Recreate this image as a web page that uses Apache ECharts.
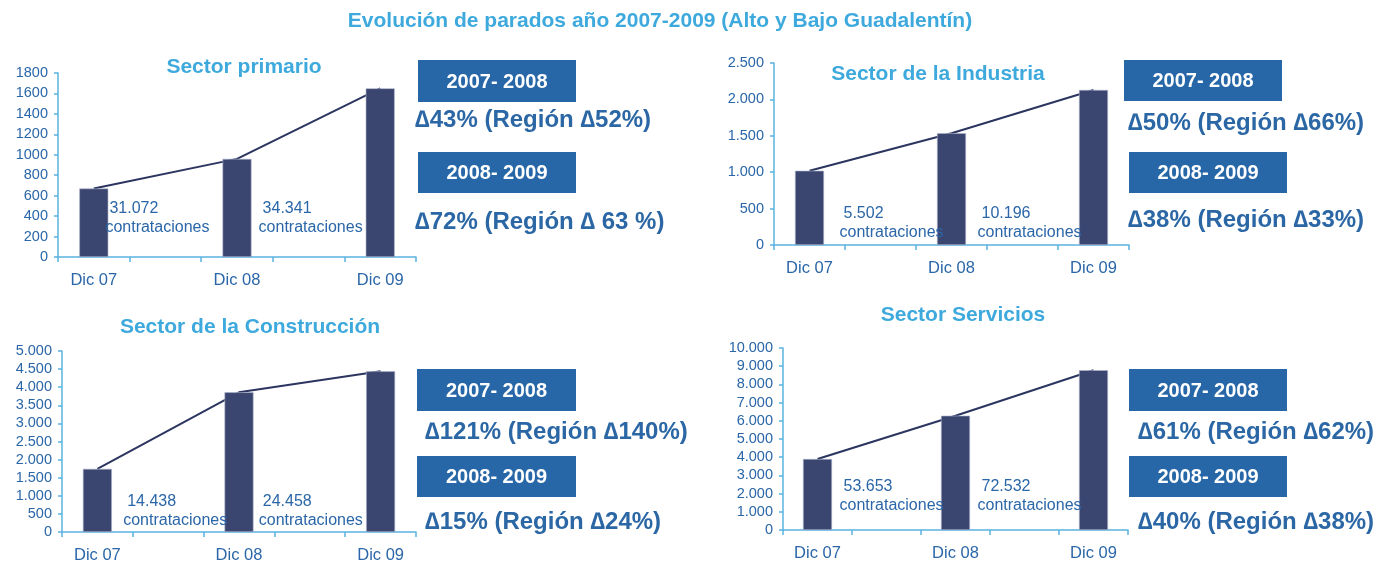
<!DOCTYPE html>
<html>
<head>
<meta charset="utf-8">
<script src="https://cdn.jsdelivr.net/npm/echarts@6/dist/echarts.min.js"></script>
<style>
  html, body { margin: 0; padding: 0; background: #fff; }
  #chart { width: 1375px; height: 564px; }
</style>
</head>
<body>
<div id="chart"></div>
<script>
// categorias (los huecos separan las barras)
const categories = ['Dic 07', '', 'Dic 08', '', 'Dic 09'];

// parados por sector (Dic 07, Dic 08, Dic 09)
const primario = [670, 960, 1650];
const industria = [1020, 1535, 2130];
const construccion = [1745, 3860, 4440];
const servicios = [3900, 6280, 8780];

// contrataciones entre periodos
const contrPrimario = ['31.072', '34.341'];
const contrIndustria = ['5.502', '10.196'];
const contrConstruccion = ['14.438', '24.458'];
const contrServicios = ['53.653', '72.532'];

// variaciones
const periodos = ['2007- 2008', '2008- 2009'];
const deltaPrimario = ['∆43% (Región ∆52%)', '∆72% (Región ∆ 63 %)'];
const deltaIndustria = ['∆50% (Región ∆66%)', '∆38% (Región ∆33%)'];
const deltaConstruccion = ['∆121% (Región ∆140%)', '∆15% (Región ∆24%)'];
const deltaServicios = ['∆61% (Región ∆62%)', '∆40% (Región ∆38%)'];

const yMax = [1800, 2500, 5000, 10000];
const yStep = [200, 500, 500, 1000];

const titulo = 'Evolución de parados año 2007-2009 (Alto y Bajo Guadalentín)';
const sectores = ['Sector primario', 'Sector de la Industria', 'Sector de la Construcción', 'Sector Servicios'];

const charts = [
    { values: primario, contr: contrPrimario, delta: deltaPrimario, sep: '',
      grid: { left: 58, top: 73, width: 358, height: 184 }, title: [244, 67],
      annoDx: [-60, -50], annoDy: -20, boxes: [[418, 60, 158, 42], [418, 152, 158, 41]], deltaPos: [[415, 120], [415, 222]] },
    { values: industria, contr: contrIndustria, delta: deltaIndustria, sep: '.',
      grid: { left: 774, top: 63, width: 355, height: 182 }, title: [938, 74],
      annoDx: [-41, -45], annoDy: -3, boxes: [[1124, 60, 158, 41], [1129, 152, 158, 41]], deltaPos: [[1128, 123], [1128, 220]] },
    { values: construccion, contr: contrConstruccion, delta: deltaConstruccion, sep: '.',
      grid: { left: 62, top: 351, width: 354, height: 182 }, title: [250, 327],
      annoDx: [-45, -51], annoDy: -2, boxes: [[417, 369, 159, 42], [417, 456, 159, 41]], deltaPos: [[425, 432], [425, 522]] },
    { values: servicios, contr: contrServicios, delta: deltaServicios, sep: '.',
      grid: { left: 783, top: 348, width: 345, height: 182 }, title: [963, 315],
      annoDx: [-47, -47], annoDy: -15, boxes: [[1129, 369, 158, 42], [1129, 456, 158, 41]], deltaPos: [[1138, 432], [1138, 522]] }
];

const FONT = 'Liberation Sans, Arial, sans-serif';
const axisBlue = '#5ab3e1';
const labelBlue = '#2a66a8';
const titleBlue = '#3da9dc';
const barColor = '#3b4670';
const boxColor = '#2767a7';

function spread(v) {
    // coloca cada valor en su categoria, dejando huecos
    return [v[0], '-', v[1], '-', v[2]];
}

function fmt(sep) {
    return function (val) {
        return String(val).replace(/\B(?=(\d{3})+(?!\d))/g, sep);
    };
}

const grids = [], xAxes = [], yAxes = [], series = [], graphics = [];

graphics.push({
    type: 'text', x: 660, y: 21,
    style: { text: titulo, fill: titleBlue, font: 'bold 21px ' + FONT, textAlign: 'center', textVerticalAlign: 'middle' }
});

charts.forEach(function (c, i) {
    grids.push(c.grid);
    xAxes.push({
        type: 'category', gridIndex: i, data: categories,
        axisLine: { lineStyle: { color: axisBlue, width: 1.5 } },
        axisTick: { show: true, length: 5, lineStyle: { color: axisBlue, width: 1.5 } },
        axisLabel: { interval: 0, color: labelBlue, fontSize: 16.5, fontFamily: FONT, margin: 15 }
    });
    yAxes.push({
        type: 'value', gridIndex: i, min: 0, max: yMax[i], interval: yStep[i],
        axisLine: { show: true, lineStyle: { color: axisBlue, width: 1.5 } },
        axisTick: { show: true, length: 4, lineStyle: { color: axisBlue, width: 1.5 } },
        splitLine: { show: false },
        axisLabel: { color: labelBlue, fontSize: 14.5, fontFamily: FONT, margin: 10, formatter: fmt(c.sep) }
    });
    series.push({
        type: 'line', xAxisIndex: i, yAxisIndex: i, data: spread(c.values),
        connectNulls: true, symbol: 'none', z: 1,
        lineStyle: { color: '#2b3560', width: 2 }
    });
    series.push({
        type: 'bar', xAxisIndex: i, yAxisIndex: i, data: spread(c.values),
        barWidth: 29, z: 3,
        itemStyle: { color: barColor, borderColor: '#aeb5cc', borderWidth: 0.6 }
    });
    series.push({
        type: 'scatter', xAxisIndex: i, yAxisIndex: i, symbolSize: 0, z: 5, silent: true,
        itemStyle: { color: labelBlue, opacity: 1 },
        data: [
            { value: [1, 0], name: c.contr[0], dx: c.annoDx[0] },
            { value: [3, 0], name: c.contr[1], dx: c.annoDx[1] }
        ].map(function (d) {
            return {
                value: d.value, name: d.name,
                label: { position: [d.dx, c.annoDy] }
            };
        }),
        label: {
            show: true, align: 'left', verticalAlign: 'bottom', color: labelBlue, opacity: 1,
            formatter: function (p) { return '{n|' + p.name + '}\n{c|contrataciones}'; },
            rich: {
                n: { fontSize: 16, fontFamily: FONT, color: labelBlue, lineHeight: 19, padding: [0, 0, 0, 4] },
                c: { fontSize: 16, fontFamily: FONT, color: labelBlue, lineHeight: 19 }
            }
        }
    });

    graphics.push({
        type: 'text', x: c.title[0], y: c.title[1],
        style: { text: sectores[i], fill: titleBlue, font: 'bold 21px ' + FONT, textAlign: 'center', textVerticalAlign: 'middle' }
    });
    c.boxes.forEach(function (b, k) {
        graphics.push({
            type: 'rect', shape: { x: b[0], y: b[1], width: b[2], height: b[3] },
            style: { fill: boxColor }
        });
        graphics.push({
            type: 'text', x: b[0] + b[2] / 2, y: b[1] + b[3] / 2 + 1,
            style: { text: periodos[k], fill: '#ffffff', font: 'bold 20px ' + FONT, textAlign: 'center', textVerticalAlign: 'middle' }
        });
        graphics.push({
            type: 'text', x: c.deltaPos[k][0], y: c.deltaPos[k][1],
            style: { text: c.delta[k], fill: '#2c67a5', font: 'bold 24px ' + FONT, textAlign: 'left', textVerticalAlign: 'middle' }
        });
    });
});

const myChart = echarts.init(document.getElementById('chart'));
myChart.setOption({
    animation: false,
    grid: grids,
    xAxis: xAxes,
    yAxis: yAxes,
    series: series,
    graphic: graphics
});
window.addEventListener('resize', function () {
    myChart.resize();
});
</script>
</body>
</html>
